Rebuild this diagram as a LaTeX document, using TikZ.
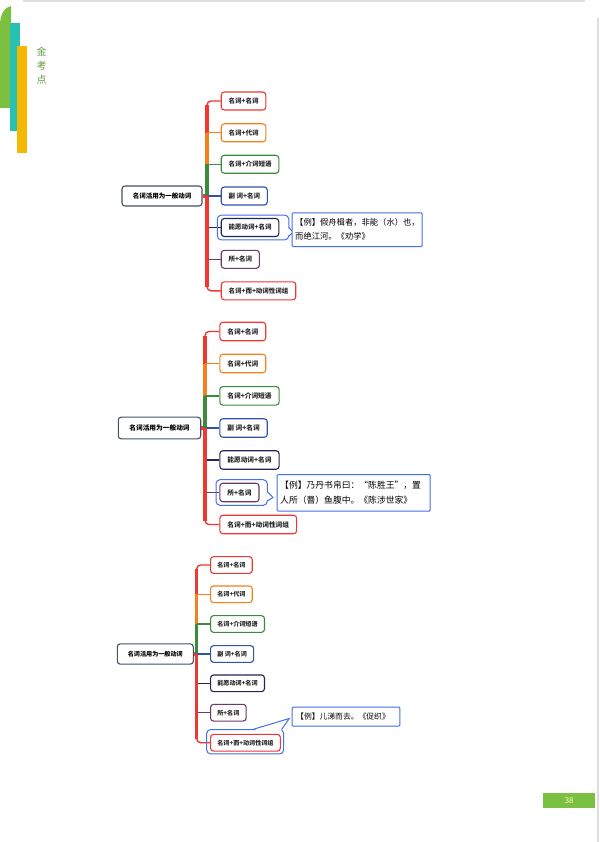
\documentclass[tikz,border=0pt]{standalone}
\usepackage{fontspec}
\setmainfont{Noto Sans CJK SC}
\usetikzlibrary{calc}
\definecolor{mapred}{RGB}{240,56,50}
\definecolor{maporange}{RGB}{245,128,30}
\definecolor{mapgreen}{RGB}{58,140,58}
\definecolor{mapblue}{RGB}{48,82,170}
\definecolor{mapnavy}{RGB}{38,36,88}
\definecolor{mapplum}{RGB}{108,58,104}
\definecolor{rootgray}{RGB}{70,80,100}
\definecolor{noteblue}{RGB}{66,112,235}
\definecolor{barlime}{RGB}{124,192,66}
\definecolor{barteal}{RGB}{40,192,176}
\definecolor{baryellow}{RGB}{244,184,0}
\definecolor{tipgreen}{RGB}{96,156,60}
\definecolor{pagegray}{RGB}{222,222,222}

\tikzset{
  rootbox/.style={rectangle,rounded corners=3pt,draw=rootgray,line width=1.1pt,fill=white,inner sep=0pt},
  branch/.style={rectangle,rounded corners=3pt,draw=#1,line width=1.1pt,fill=white,anchor=west,inner ysep=0pt,text=black!85},
  trunk/.style={line width=3.3pt},
  twig/.style={line width=1.4pt,rounded corners=4pt},
  hilite/.style={draw=noteblue,line width=1pt,rounded corners=4pt},
  note/.style={rectangle,draw=noteblue,line width=1pt,rounded corners=1pt,fill=white,align=left,anchor=north west,inner xsep=3pt,inner ysep=0pt,font=\fontsize{8.3}{13.7}\selectfont}
}

\begin{document}
\begin{tikzpicture}[x=1pt,y=-1pt]
  \useasboundingbox (0,0) rectangle (599,842);
  \fill[white] (0,0) rectangle (599,842);

  % page frame
  \draw[pagegray,line width=2pt] (23,1) -- (585,1);
  \draw[pagegray,line width=2.5pt] (597.8,18) -- (597.8,842);
  \fill[barlime] (0,108) -- (0,25) .. controls (0,14) and (5,7) .. (11,6) -- (11,108) -- cycle;
  \fill[barteal] (10,23.3) rectangle (20,130.7);
  \fill[baryellow] (17,45.7) rectangle (27,153.3);
  \node[align=center,anchor=north,inner sep=0pt,text=tipgreen,font=\fontsize{10}{14}\selectfont] (brand) at (41.7,47) {金\\考\\点};
  \node[fill=barlime,minimum width=51.7pt,minimum height=15pt,inner sep=0pt,text=yellow!25,font=\fontsize{8}{8}\selectfont] (pgno) at (569.2,800.2) {38};

  % map 1
  \begin{scope}[font=\bfseries\fontsize{6.5}{8}\selectfont,every node/.append style={minimum height=18pt,inner xsep=7.3pt}]
  \node[rootbox,minimum width=80pt,minimum height=20pt] (root1) at (162,196) {名词活用为一般动词};
  \coordinate (hub1) at (207,196);
  \node[branch=mapred] (a1) at (220.7,101) {名词+名词};
  \node[branch=maporange] (b1) at (220.7,132.8) {名词+代词};
  \node[branch=mapgreen] (c1) at (220.7,164.3) {名词+介词短语};
  \node[branch=mapblue] (d1) at (220.7,196) {副 词+名词};
  \node[branch=mapnavy] (e1) at (220.7,227.5) {能愿动词+名词};
  \node[branch=mapplum] (f1) at (220.7,259.3) {所+名词};
  \node[branch=mapred] (g1) at (220.7,290.8) {名词+而+动词性词组};

  \draw[trunk,mapred] (root1.east) -- (hub1);
  \draw[trunk,mapred] (hub1) -- ($(hub1 |- a1.west)+(0,4)$);
  \draw[twig,mapred] ($(hub1 |- a1.west)+(0,9)$) |- (a1.west);
  \draw[trunk,maporange] (hub1) -- (hub1 |- b1.west);
  \draw[twig,maporange] (hub1 |- b1.west) -- (b1.west);
  \draw[trunk,mapgreen] (hub1) -- (hub1 |- c1.west);
  \draw[twig,mapgreen] (hub1 |- c1.west) -- (c1.west);
  \draw[twig,mapblue] (hub1) -- (d1.west);
  \draw[twig,mapnavy] (hub1 |- e1.west) -- (e1.west);
  \draw[twig,mapplum] (hub1 |- f1.west) -- (f1.west);
  \draw[trunk,mapred] (hub1) -- ($(hub1 |- g1.west)+(0,-4)$);
  \draw[twig,mapred] ($(hub1 |- g1.west)+(0,-9)$) |- (g1.west);

  \draw[hilite] ($(e1.south west)+(-3.4,2.8)$) rectangle ($(e1.north east)+(9.4,-2.8)$);
  \coordinate (p1) at ($(e1.east)+(9.4,0)$);
  \fill[white] ($(p1)+(-1,0.4)$) -- ($(p1)+(4.6,4.8)$) -- ($(p1)+(-1,8.1)$) -- cycle;
  \draw[noteblue,line width=1pt] (p1) -- ++(4.6,4.8) -- ++(-4.6,3.7);
  \end{scope}
  \node[note,text width=124pt,minimum height=33.7pt] (ex1) at (291.7,212.3) {【例】假舟楫者，非能（水）也，\\而绝江河。《劝学》};

  % map 2
  \begin{scope}[font=\bfseries\fontsize{6.7}{8}\selectfont,every node/.append style={minimum height=18.5pt,inner xsep=7.5pt}]
  \node[rootbox,minimum width=82.4pt,minimum height=21.7pt] (root2) at (159.5,428) {名词活用为一般动词};
  \coordinate (hub2) at (205,428);
  \node[branch=mapred] (a2) at (219.3,331.5) {名词+名词};
  \node[branch=maporange] (b2) at (219.3,363.5) {名词+代词};
  \node[branch=mapgreen] (c2) at (219.3,395.8) {名词+介词短语};
  \node[branch=mapblue] (d2) at (219.3,428) {副 词+名词};
  \node[branch=mapnavy] (e2) at (219.3,460) {能愿动词+名词};
  \node[branch=mapplum] (f2) at (219.3,492.5) {所+名词};
  \node[branch=mapred] (g2) at (219.3,524.5) {名词+而+动词性词组};

  \draw[trunk,mapred] (root2.east) -- (hub2);
  \draw[trunk,mapred] (hub2) -- ($(hub2 |- a2.west)+(0,4)$);
  \draw[twig,mapred] ($(hub2 |- a2.west)+(0,9)$) |- (a2.west);
  \draw[trunk,maporange] (hub2) -- (hub2 |- b2.west);
  \draw[twig,maporange] (hub2 |- b2.west) -- (b2.west);
  \draw[trunk,mapgreen] (hub2) -- (hub2 |- c2.west);
  \draw[twig,mapgreen] (hub2 |- c2.west) -- (c2.west);
  \draw[twig,mapblue] (hub2) -- (d2.west);
  \draw[twig,mapnavy] (hub2 |- e2.west) -- (e2.west);
  \draw[twig,mapplum] (hub2 |- f2.west) -- (f2.west);
  \draw[trunk,mapred] (hub2) -- ($(hub2 |- g2.west)+(0,-4)$);
  \draw[twig,mapred] ($(hub2 |- g2.west)+(0,-9)$) |- (g2.west);

  \draw[hilite] ($(f2.south west)+(-3.3,3)$) rectangle ($(f2.north east)+(7.7,-3)$);
  \coordinate (p2) at ($(f2.east)+(7.7,-1)$);
  \fill[white] ($(p2)+(-1,0.4)$) -- ($(p2)+(5.7,6)$) -- ($(p2)+(-1,9.1)$) -- cycle;
  \draw[noteblue,line width=1pt] (p2) -- ++(5.7,6) -- ++(-5.7,3.5);
  \end{scope}
  \node[note,text width=147pt,minimum height=36.7pt,font=\fontsize{8.8}{15.6}\selectfont] (ex2) at (276.7,474) {【例】乃丹书帛曰：“陈胜王”，置\\人所（罾）鱼腹中。《陈涉世家》};

  % map 3
  \begin{scope}[font=\bfseries\fontsize{6.1}{7.5}\selectfont,every node/.append style={minimum height=16.7pt,inner xsep=6.8pt}]
  \node[rootbox,minimum width=76pt,minimum height=20.3pt] (root3) at (155.3,654) {名词活用为一般动词};
  \coordinate (hub3) at (196.7,654);
  \node[branch=mapred] (a3) at (210,565) {名词+名词};
  \node[branch=maporange] (b3) at (210,594.3) {名词+代词};
  \node[branch=mapgreen] (c3) at (210,624) {名词+介词短语};
  \node[branch=mapblue] (d3) at (210,654) {副 词+名词};
  \node[branch=mapnavy] (e3) at (210,683.3) {能愿动词+名词};
  \node[branch=mapplum] (f3) at (210,712.7) {所+名词};
  \node[branch=mapred] (g3) at (210,742.7) {名词+而+动词性词组};

  \draw[trunk,mapred] (root3.east) -- (hub3);
  \draw[trunk,mapred] (hub3) -- ($(hub3 |- a3.west)+(0,4)$);
  \draw[twig,mapred] ($(hub3 |- a3.west)+(0,9)$) |- (a3.west);
  \draw[trunk,maporange] (hub3) -- (hub3 |- b3.west);
  \draw[twig,maporange] (hub3 |- b3.west) -- (b3.west);
  \draw[trunk,mapgreen] (hub3) -- (hub3 |- c3.west);
  \draw[twig,mapgreen] (hub3 |- c3.west) -- (c3.west);
  \draw[twig,mapblue] (hub3) -- (d3.west);
  \draw[twig,mapnavy] (hub3 |- e3.west) -- (e3.west);
  \draw[twig,mapplum] (hub3 |- f3.west) -- (f3.west);
  \draw[trunk,mapred] (hub3) -- ($(hub3 |- g3.west)+(0,-4)$);
  \draw[twig,mapred] ($(hub3 |- g3.west)+(0,-9)$) |- (g3.west);

  \draw[hilite] ($(g3.south west)+(-3.3,2.3)$) rectangle ($(g3.north east)+(2.7,-4.3)$);
  \coordinate (p3) at ($(g3.north east)+(2.7,-4.3)$);
  \fill[white] ($(p3)+(-31,1)$) -- ($(p3)+(5.6,-11)$) -- ($(p3)+(-2,1)$) -- cycle;
  \draw[noteblue,line width=1pt] ($(p3)+(-31,0)$) -- ++(36.6,-11) -- ++(-7.6,11);
  \end{scope}
  \node[note,text width=99.6pt,inner xsep=4pt,minimum height=19pt,font=\fontsize{7.8}{9}\selectfont] (ex3) at (291.7,706.7) {【例】儿涕而去。《促织》};
\end{tikzpicture}
\end{document}
